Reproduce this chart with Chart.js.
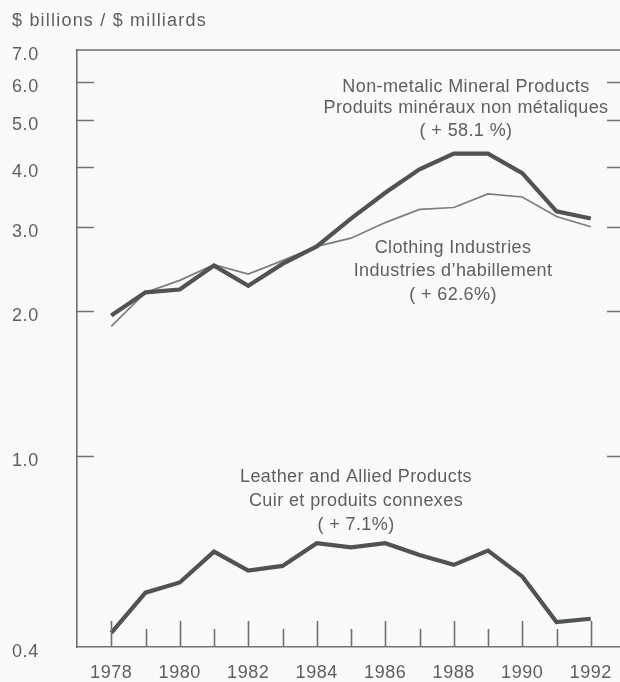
<!DOCTYPE html>
<html>
<head>
<meta charset="utf-8">
<script src="https://cdn.jsdelivr.net/npm/chart.js@4/dist/chart.umd.min.js"></script>
<style>
  html, body { margin: 0; padding: 0; overflow: hidden; background: #fafaf8; }
  canvas { display: block; }
</style>
</head>
<body>
<canvas id="chart" width="640" height="682"></canvas>
<script>
// Values ($ billions, log scale)
const years = [1978, 1979, 1980, 1981, 1982, 1983, 1984, 1985, 1986, 1987, 1988, 1989, 1990, 1991, 1992];
const nonMetallic = [1.96, 2.19, 2.22, 2.49, 2.26, 2.51, 2.73, 3.12, 3.53, 3.95, 4.26, 4.26, 3.88, 3.23, 3.12];
const clothing = [1.86, 2.19, 2.32, 2.50, 2.39, 2.55, 2.73, 2.84, 3.06, 3.26, 3.29, 3.51, 3.46, 3.15, 3.00];
const leather = [0.428, 0.519, 0.545, 0.632, 0.577, 0.590, 0.658, 0.645, 0.658, 0.622, 0.593, 0.635, 0.561, 0.451, 0.458];
const yTicks = [0.4, 1, 2, 3, 4, 5, 6, 7];
const xTickYears = [1978, 1980, 1982, 1984, 1986, 1988, 1990, 1992];

const axisTitle = '$ billions / $ milliards';
const seriesNotes = [
  { lines: ['Non-metalic Mineral Products', 'Produits minéraux non métaliques', '( + 58.1 %)'], x: 466, y: [87, 108, 131] },
  { lines: ['Clothing Industries', 'Industries d\u2019habillement', '( + 62.6%)'], x: 453, y: [248, 271, 295] },
  { lines: ['Leather and Allied Products', 'Cuir et produits connexes', '( + 7.1%)'], x: 356, y: [477, 501, 525] },
];

const FONT = '"Liberation Sans", Arial, sans-serif';
const TEXT = '#5e605e';
const AXIS = '#6f726f';

const toPoints = (arr) => years.map((yr, i) => ({ x: yr, y: arr[i] }));

// Inward tick marks, top frame line, title and series notes
const framePlugin = {
  id: 'frame',
  beforeDraw(chart) {
    chart.ctx.letterSpacing = '0.6px';
  },
  afterDraw(chart) {
    const { ctx, chartArea: a, scales } = chart;
    ctx.save();
    ctx.strokeStyle = AXIS;
    ctx.lineWidth = 1.6;
    ctx.beginPath();
    ctx.moveTo(a.left, a.top);
    ctx.lineTo(a.right, a.top);
    ctx.moveTo(a.right, a.top);
    ctx.lineTo(a.right, a.bottom);
    yTicks.slice(1, -1).forEach((v) => {
      const py = Math.round(scales.y.getPixelForValue(v)) + 0.5;
      ctx.moveTo(a.left, py);
      ctx.lineTo(a.left + 17, py);
      ctx.moveTo(a.right, py);
      ctx.lineTo(a.right - 18, py);
    });
    years.forEach((yr) => {
      const px = Math.round(scales.x.getPixelForValue(yr)) + 0.5;
      const len = yr % 2 === 0 ? 26 : 18;
      ctx.moveTo(px, a.bottom);
      ctx.lineTo(px, a.bottom - len);
    });
    ctx.stroke();

    ctx.fillStyle = TEXT;
    ctx.textBaseline = 'middle';
    ctx.font = '18px ' + FONT;
    ctx.letterSpacing = '1.2px';
    ctx.textAlign = 'left';
    ctx.fillText(axisTitle, 12, 21);

    ctx.letterSpacing = '0.4px';
    ctx.textAlign = 'center';
    seriesNotes.forEach((n) => {
      n.lines.forEach((t, i) => ctx.fillText(t, n.x, n.y[i]));
    });
    ctx.restore();
  },
};

const ctx = document.getElementById('chart').getContext('2d');
new Chart(ctx, {
  type: 'line',
  data: {
    datasets: [
      {
        label: 'Non-metalic Mineral Products',
        data: toPoints(nonMetallic),
        borderColor: '#4f544f',
        borderWidth: 4.2,
        pointRadius: 0,
        tension: 0,
      },
      {
        label: 'Clothing Industries',
        data: toPoints(clothing),
        borderColor: '#7b7e7b',
        borderWidth: 1.7,
        pointRadius: 0,
        tension: 0,
      },
      {
        label: 'Leather and Allied Products',
        data: toPoints(leather),
        borderColor: '#4f544f',
        borderWidth: 4.2,
        pointRadius: 0,
        tension: 0,
      },
    ],
  },
  options: {
    responsive: false,
    animation: false,
    layout: { padding: { left: 12, right: 15, top: 50, bottom: 0 } },
    plugins: {
      legend: { display: false },
      tooltip: { enabled: false },
    },
    scales: {
      x: {
        type: 'linear',
        min: 1977,
        max: 1993,
        afterBuildTicks: (s) => { s.ticks = xTickYears.map((v) => ({ value: v })); },
        afterFit: (s) => { s.height = 35; },
        grid: { display: false },
        border: { display: true, color: AXIS, width: 1.6 },
        ticks: {
          padding: 7,
          color: TEXT,
          font: { size: 18, family: FONT },
          maxRotation: 0,
          autoSkip: false,
          callback: (v) => String(v),
        },
      },
      y: {
        type: 'logarithmic',
        min: 0.4,
        max: 7,
        afterBuildTicks: (s) => { s.ticks = yTicks.map((v) => ({ value: v })); },
        afterFit: (s) => { s.width = 65; },
        grid: { display: false },
        border: { display: true, color: AXIS, width: 1.6 },
        ticks: {
          crossAlign: 'far',
          labelOffset: 5,
          color: TEXT,
          font: { size: 18, family: FONT },
          autoSkip: false,
          callback: (v) => Number(v).toFixed(1),
        },
      },
    },
  },
  plugins: [framePlugin],
});
</script>
</body>
</html>
